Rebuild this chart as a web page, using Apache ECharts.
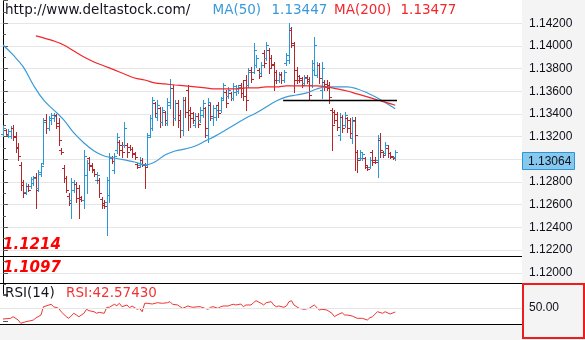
<!DOCTYPE html>
<html>
<head>
<meta charset="utf-8">
<script src="https://cdn.jsdelivr.net/npm/echarts@6/dist/echarts.min.js"></script>
<style>
html,body{margin:0;padding:0;background:#fff;}
#chart{width:585px;height:340px;}
</style>
</head>
<body>
<div id="chart"></div>
<script>
// ---- data ----
const siteName = 'http://www.deltastock.com/';

// OHLC bars: [open, high, low, close]
const bars = [
  [1.13224,1.13295,1.13207,1.13277],[1.13259,1.13268,1.13207,1.13224],[1.13215,1.13268,1.13198,1.13251],[1.13207,1.13295,1.13189,1.13277],
  [1.13277,1.13304,1.13171,1.13198],[1.13207,1.13242,1.13065,1.13101],[1.13110,1.13145,1.12995,1.13030],[1.12951,1.12977,1.12730,1.12774],
  [1.12801,1.12818,1.12669,1.12704],[1.12713,1.12792,1.12695,1.12766],[1.12766,1.12783,1.12721,1.12730],[1.12766,1.12845,1.12748,1.12827],
  [1.12792,1.12854,1.12774,1.12836],[1.12845,1.12880,1.12571,1.12730],[1.12748,1.12907,1.12721,1.12871],[1.12889,1.12968,1.12854,1.12942],
  [1.12968,1.13365,1.12960,1.13330],[1.13348,1.13401,1.13233,1.13277],[1.13277,1.13383,1.13259,1.13365],[1.13348,1.13409,1.13312,1.13392],
  [1.13365,1.13409,1.13339,1.13383],[1.13392,1.13401,1.13277,1.13295],[1.13321,1.13365,1.13127,1.13171],[1.13083,1.13101,1.13048,1.13065],
  [1.12924,1.12951,1.12801,1.12836],[1.12836,1.12854,1.12713,1.12730],[1.12677,1.12704,1.12598,1.12616],[1.12642,1.12836,1.12483,1.12801],
  [1.12730,1.12818,1.12713,1.12783],[1.12783,1.12801,1.12624,1.12660],[1.12748,1.12774,1.12483,1.12651],[1.12669,1.12677,1.12633,1.12642],
  [1.12642,1.13083,1.12571,1.13030],[1.12863,1.12995,1.12704,1.12968],[1.13012,1.13021,1.12907,1.12942],[1.12951,1.12968,1.12889,1.12915],
  [1.12907,1.12915,1.12854,1.12871],[1.12818,1.12889,1.12792,1.12863],[1.12818,1.12836,1.12669,1.12704],[1.12651,1.12669,1.12571,1.12598],
  [1.12616,1.12642,1.12571,1.12589],[1.12624,1.12845,1.12333,1.12818],[1.12686,1.13057,1.12624,1.13012],[1.13021,1.13030,1.12968,1.12986],
  [1.12907,1.13057,1.12880,1.13030],[1.13083,1.13233,1.13057,1.13198],[1.13154,1.13171,1.13039,1.13083],[1.13127,1.13154,1.13021,1.13065],
  [1.13127,1.13330,1.13110,1.13277],[1.13127,1.13145,1.13021,1.13065],[1.13110,1.13127,1.13083,1.13092],[1.13092,1.13110,1.13021,1.13048],
  [1.13057,1.13065,1.13004,1.13021],[1.12960,1.12968,1.12924,1.12933],[1.12951,1.13021,1.12933,1.12995],[1.12995,1.13012,1.12942,1.12960],
  [1.12951,1.12968,1.12748,1.12933],[1.12951,1.13233,1.12942,1.13198],[1.13215,1.13392,1.13198,1.13365],[1.13277,1.13551,1.13259,1.13524],
  [1.13498,1.13506,1.13374,1.13409],[1.13374,1.13524,1.13348,1.13480],[1.13453,1.13462,1.13286,1.13330],[1.13330,1.13462,1.13304,1.13436],
  [1.13418,1.13427,1.13304,1.13348],[1.13321,1.13542,1.13304,1.13506],[1.13480,1.13709,1.13453,1.13630],[1.13630,1.13656,1.13304,1.13365],
  [1.13365,1.13524,1.13348,1.13498],[1.13498,1.13524,1.13286,1.13348],[1.13392,1.13436,1.13198,1.13259],[1.13259,1.13551,1.13215,1.13524],
  [1.13524,1.13551,1.13374,1.13418],[1.13612,1.13656,1.13259,1.13392],[1.13436,1.13462,1.13286,1.13365],[1.13409,1.13418,1.13321,1.13348],
  [1.13304,1.13409,1.13286,1.13383],[1.13383,1.13409,1.13286,1.13312],[1.13348,1.13462,1.13330,1.13436],[1.13392,1.13524,1.13374,1.13498],
  [1.13453,1.13462,1.13198,1.13277],[1.13215,1.13542,1.13154,1.13506],[1.13480,1.13498,1.13348,1.13383],[1.13365,1.13480,1.13304,1.13453],
  [1.13374,1.13471,1.13348,1.13436],[1.13480,1.13506,1.13374,1.13409],[1.13436,1.13551,1.13418,1.13524],[1.13542,1.13674,1.13524,1.13656],
  [1.13595,1.13612,1.13462,1.13498],[1.13559,1.13639,1.13542,1.13612],[1.13586,1.13595,1.13524,1.13542],[1.13542,1.13674,1.13524,1.13648],
  [1.13595,1.13656,1.13568,1.13630],[1.13603,1.13656,1.13586,1.13639],[1.13656,1.13674,1.13551,1.13586],[1.13630,1.13700,1.13524,1.13559],
  [1.13700,1.13745,1.13436,1.13524],[1.13656,1.13806,1.13639,1.13771],[1.13789,1.13815,1.13683,1.13709],[1.13771,1.14027,1.13762,1.13965],
  [1.13833,1.13921,1.13815,1.13894],[1.13789,1.13806,1.13718,1.13736],[1.13762,1.13859,1.13745,1.13833],[1.13939,1.13965,1.13815,1.13850],
  [1.13894,1.14036,1.13877,1.14009],[1.13965,1.13983,1.13762,1.13806],[1.13894,1.13921,1.13815,1.13842],[1.13833,1.13859,1.13612,1.13700],
  [1.13771,1.13789,1.13674,1.13700],[1.13700,1.13771,1.13683,1.13745],[1.13753,1.13771,1.13674,1.13700],[1.13700,1.13789,1.13683,1.13771],
  [1.13850,1.13939,1.13833,1.13921],[1.13877,1.14203,1.13850,1.14159],[1.14141,1.14168,1.13991,1.14027],[1.14009,1.14036,1.13595,1.13700],
  [1.13789,1.13815,1.13674,1.13700],[1.13736,1.13745,1.13683,1.13700],[1.13718,1.13727,1.13639,1.13656],[1.13674,1.13745,1.13656,1.13718],
  [1.13727,1.13745,1.13674,1.13692],[1.13709,1.13727,1.13524,1.13568],[1.13656,1.13877,1.13639,1.13850],[1.13789,1.14080,1.13745,1.14009],
  [1.13745,1.13859,1.13727,1.13833],[1.13833,1.13850,1.13674,1.13718],[1.13612,1.13859,1.13542,1.13806],[1.13683,1.13700,1.13612,1.13639],
  [1.13665,1.13700,1.13612,1.13630],[1.13656,1.13683,1.13498,1.13551],[1.13436,1.13453,1.13083,1.13304],[1.13418,1.13436,1.13321,1.13348],
  [1.13401,1.13418,1.13259,1.13286],[1.13215,1.13409,1.13171,1.13374],[1.13374,1.13392,1.13242,1.13277],[1.13304,1.13418,1.13286,1.13392],
  [1.13365,1.13374,1.13242,1.13277],[1.13348,1.13365,1.13198,1.13233],[1.13189,1.13374,1.13145,1.13339],[1.13348,1.13374,1.12907,1.13215],
  [1.13065,1.13083,1.12889,1.12995],[1.13012,1.13083,1.12995,1.13065],[1.13012,1.13065,1.12995,1.13048],[1.13012,1.13021,1.12924,1.12951],
  [1.12933,1.12942,1.12907,1.12915],[1.12933,1.13021,1.12924,1.12995],[1.13065,1.13083,1.12951,1.12977],[1.12995,1.13021,1.12968,1.12977],
  [1.12995,1.13215,1.12845,1.13189],[1.13171,1.13233,1.13021,1.13083],[1.13065,1.13074,1.13021,1.13039],[1.13057,1.13154,1.13039,1.13127],
  [1.13101,1.13127,1.13021,1.13057],[1.13057,1.13065,1.13012,1.13030],[1.13021,1.13030,1.13004,1.13012],[1.13021,1.13083,1.12995,1.13064]
];

// moving averages sampled along the bars: [barIndex, value]
const ma50 = [
  [0,1.14009],[4,1.13921],[8,1.13815],[12,1.13656],[16,1.13524],[20,1.13436],[24,1.13348],[28,1.13233],
  [32,1.13145],[36,1.13074],[40,1.13030],[44,1.13012],[48,1.12995],[52,1.12977],[56,1.12951],[60,1.12977],
  [64,1.13039],[68,1.13074],[72,1.13092],[76,1.13118],[80,1.13163],[84,1.13207],[88,1.13259],[92,1.13312],
  [96,1.13365],[100,1.13409],[104,1.13462],[108,1.13515],[112,1.13551],[116,1.13568],[120,1.13586],[124,1.13621],
  [128,1.13639],[132,1.13639],[136,1.13639],[140,1.13621],[144,1.13586],[148,1.13542],[152,1.13489],[155,1.13447]
];
const ma200 = [
  [13,1.14089],[16,1.14071],[20,1.14045],[24,1.14009],[28,1.13956],[32,1.13903],[36,1.13859],[40,1.13824],
  [44,1.13789],[48,1.13753],[52,1.13718],[56,1.13700],[60,1.13674],[64,1.13665],[68,1.13656],[72,1.13648],
  [76,1.13639],[80,1.13630],[84,1.13621],[88,1.13621],[92,1.13621],[96,1.13630],[100,1.13630],[104,1.13639],
  [108,1.13639],[112,1.13648],[116,1.13648],[120,1.13648],[124,1.13648],[128,1.13639],[132,1.13621],[136,1.13603],
  [140,1.13577],[144,1.13551],[148,1.13524],[152,1.13498],[155,1.13477]
];

// RSI(14): [barIndex, value]
const rsi14 = [
  [0,29.6],[3,30.9],[4,33.9],[6,27.8],[7,21.7],[9,24.6],[11,26.5],[12,27.8],[13,31.5],[15,37.0],
  [16,52.4],[17,53.7],[19,56.9],[20,52.4],[22,49.4],[23,43.1],[25,33.9],[26,30.9],[28,40.2],[29,37.0],
  [30,33.9],[32,40.2],[33,47.6],[34,45.0],[36,43.1],[37,40.2],[38,42.0],[40,40.2],[41,51.3],[42,51.3],
  [44,56.9],[45,54.3],[46,58.7],[47,52.4],[49,55.6],[50,50.6],[51,53.7],[53,47.6],[54,49.4],[55,43.1],
  [56,58.7],[57,58.7],[59,57.4],[61,59.8],[63,58.7],[65,59.8],[66,61.7],[67,56.9],[69,55.6],[70,52.4],
  [71,49.4],[73,53.7],[74,52.4],[75,51.3],[77,52.4],[78,52.4],[79,50.6],[81,47.6],[82,51.3],[83,52.4],
  [85,49.4],[86,52.4],[87,53.7],[89,53.7],[90,55.6],[91,56.9],[92,55.6],[94,57.4],[95,52.4],[96,55.6],
  [98,55.6],[99,59.8],[100,63.5],[102,58.7],[103,55.6],[104,59.8],[106,61.7],[107,55.6],[108,52.4],[109,53.7],
  [111,51.3],[112,53.7],[113,61.7],[114,63.5],[115,55.6],[117,49.4],[119,47.6],[121,49.4],[123,55.6],[125,46.3],
  [126,47.6],[128,46.3],[130,40.2],[131,33.9],[132,37.0],[134,41.3],[135,37.0],[136,37.0],[138,35.2],[140,30.9],
  [142,30.9],[144,27.8],[145,32.0],[146,33.9],[148,43.1],[150,40.2],[151,43.1],[153,38.9],[155,42.5743]
];

// horizontal support drawn under the recent bars
const supportLine = { from: 110.7, to: 155.7, level: 1.13524 };
// price level tags shown bottom-left
const levelTags = ['1.1214', '1.1097'];
// price axis range and step
const priceAxis = { min: 1.118, max: 1.144, step: 0.002 };
const rsiAxis = { min: 0, max: 100, step: 25, ticks: [0, 25, 50, 75], labels: [50] };

// ---- styling ----
const UP = '#2b97d5';
const DOWN = '#b3272c';
const MA50_COLOR = '#3a9ad9';
const MA200_COLOR = '#f2262b';
const RSI_COLOR = '#f03434';
const TICK_COLOR = '#5a5a5a';
const AXIS_FONT = '"Liberation Sans", Arial, sans-serif';
const HEAD_FONT = '"DejaVu Sans", Verdana, sans-serif';

const X_MIN = -1.186, X_MAX = 205.1;

function renderBar(params, api) {
  const i = api.value(0);
  const o = api.value(1), h = api.value(2), l = api.value(3), c = api.value(4);
  const po = api.coord([i, o]);
  const ph = api.coord([i, h]);
  const pl = api.coord([i, l]);
  const pc = api.coord([i, c]);
  const x = Math.round(po[0]) + 0.5;
  const style = { stroke: c >= o ? UP : DOWN, lineWidth: 1 };
  const yo = Math.round(po[1]) + 0.5;
  const yc = Math.round(pc[1]) + 0.5;
  return {
    type: 'group',
    children: [
      { type: 'line', shape: { x1: x, y1: Math.round(ph[1]), x2: x, y2: Math.round(pl[1]) + 1 }, style },
      { type: 'line', shape: { x1: x - 2.5, y1: yo, x2: x, y2: yo }, style },
      { type: 'line', shape: { x1: x, y1: yc, x2: x + 2.5, y2: yc }, style }
    ]
  };
}

const chart = echarts.init(document.getElementById('chart'), null, { renderer: 'canvas' });

const last = arr => arr[arr.length - 1];
const lastClose = last(bars)[3];

chart.setOption({
  animation: false,
  backgroundColor: '#ffffff',
  grid: [
    { left: 0, width: 522, top: 0.63, height: 294.8 },
    { left: 0, width: 522, top: 281, height: 54 }
  ],
  xAxis: [
    { type: 'value', gridIndex: 0, min: X_MIN, max: X_MAX, show: false },
    { type: 'value', gridIndex: 1, min: X_MIN, max: X_MAX, show: false }
  ],
  yAxis: [
    {
      type: 'value', gridIndex: 0, position: 'right',
      min: priceAxis.min, max: priceAxis.max, interval: priceAxis.step,
      axisLine: { show: true, lineStyle: { color: '#000', width: 1 } },
      axisTick: { show: true, length: 5, lineStyle: { color: TICK_COLOR } },
      minorTick: { show: true, splitNumber: 2, length: 3, lineStyle: { color: TICK_COLOR } },
      splitLine: { show: true, showMinLine: false, showMaxLine: false, lineStyle: { color: '#e6e6e6', width: 1 } },
      axisLabel: {
        show: true, margin: 7, color: '#10101c', fontSize: 12, fontFamily: AXIS_FONT,
        showMinLabel: false, showMaxLabel: false,
        formatter: v => v.toFixed(5)
      }
    },
    {
      type: 'value', gridIndex: 1, position: 'right',
      min: rsiAxis.min, max: rsiAxis.max, interval: rsiAxis.step,
      axisLine: { show: false },
      axisTick: { show: true, length: 5, customValues: rsiAxis.ticks, lineStyle: { color: TICK_COLOR } },
      splitLine: { show: false },
      axisLabel: {
        show: true, margin: 7, color: '#10101c', fontSize: 12, fontFamily: AXIS_FONT,
        customValues: rsiAxis.labels,
        formatter: v => v.toFixed(2)
      }
    }
  ],
  series: [
    {
      type: 'custom', name: 'bars', xAxisIndex: 0, yAxisIndex: 0, z: 2,
      renderItem: renderBar,
      dimensions: ['i', 'open', 'high', 'low', 'close'],
      encode: { x: 0, y: [1, 2, 3, 4] },
      data: bars.map((b, i) => [i, b[0], b[1], b[2], b[3]]),
      markLine: {
        silent: true, symbol: 'none', label: { show: false },
        lineStyle: { color: '#000', width: 1.3, type: 'solid' },
        data: [[{ coord: [supportLine.from, supportLine.level] }, { coord: [supportLine.to, supportLine.level] }]]
      }
    },
    {
      type: 'line', name: 'MA(50)', xAxisIndex: 0, yAxisIndex: 0, z: 3,
      data: ma50, showSymbol: false, smooth: 0.4,
      lineStyle: { color: MA50_COLOR, width: 1.2 }
    },
    {
      type: 'line', name: 'MA(200)', xAxisIndex: 0, yAxisIndex: 0, z: 3,
      data: ma200, showSymbol: false, smooth: 0.4,
      lineStyle: { color: MA200_COLOR, width: 1.2 }
    },
    {
      type: 'line', name: 'RSI', xAxisIndex: 1, yAxisIndex: 1, z: 3,
      data: rsi14, showSymbol: false,
      lineStyle: { color: RSI_COLOR, width: 1 },
      markLine: {
        silent: true, symbol: 'none', label: { show: false },
        lineStyle: { color: '#e6e6e6', width: 1, type: 'solid' },
        data: [{ yAxis: 50 }]
      }
    }
  ]
});

// overlay: panels, separators, headers, and the last-price box
const boxY = chart.convertToPixel({ yAxisIndex: 0 }, lastClose);

function txt(text, x, y, color, font) {
  return {
    type: 'text', z: 20, silent: true,
    style: { text, x, y, fill: color, font, textAlign: 'left', textVerticalAlign: 'middle', verticalAlign: 'middle' }
  };
}
function hline(x1, x2, y) {
  return { type: 'line', z: 15, silent: true, shape: { x1, y1: y, x2, y2: y }, style: { stroke: '#000', lineWidth: 1 } };
}

chart.setOption({
  graphic: [
    { type: 'rect', z: -1, silent: true, shape: { x: 522, y: 0, width: 63, height: 340 }, style: { fill: '#f4f4f4' } },
    { type: 'rect', z: 14, silent: true, shape: { x: 0, y: 324, width: 522, height: 16 }, style: { fill: '#f4f4f4' } },
    hline(0, 522, 256.5),
    hline(0, 522, 283.5),
    hline(0, 522, 324.5),
    { type: 'rect', z: 16, silent: true, shape: { x: 523, y: 284, width: 61, height: 54 }, style: { fill: null, stroke: '#ee1c1c', lineWidth: 2 } },
    txt(siteName, 5, 10.5, '#14141e', '13.5px ' + HEAD_FONT),
    txt('MA(50)', 212.5, 10.5, MA50_COLOR, '13.5px ' + HEAD_FONT),
    txt(last(ma50)[1].toFixed(5), 271.5, 10.5, MA50_COLOR, '13.5px ' + HEAD_FONT),
    txt('MA(200)', 334, 10.5, MA200_COLOR, '13.5px ' + HEAD_FONT),
    txt(last(ma200)[1].toFixed(5), 400.5, 10.5, MA200_COLOR, '13.5px ' + HEAD_FONT),
    txt(levelTags[0], 3, 245.5, '#ff0000', 'italic bold 15px ' + HEAD_FONT),
    txt(levelTags[1], 3, 268.5, '#ff0000', 'italic bold 15px ' + HEAD_FONT),
    txt('RSI(14)', 5, 293, '#14141e', '13.5px ' + HEAD_FONT),
    txt('RSI:' + last(rsi14)[1].toFixed(5), 66, 293, RSI_COLOR, '13.5px ' + HEAD_FONT),
    { type: 'rect', z: 18, silent: true, shape: { x: 522.5, y: Math.round(boxY) + 0.5, width: 52, height: 17 }, style: { fill: '#86c9ee', stroke: '#2f93d4', lineWidth: 1 } },
    txt(lastClose.toFixed(5), 528, Math.round(boxY) + 9.5, '#10101c', '12px ' + AXIS_FONT)
  ]
});
</script>
</body>
</html>
